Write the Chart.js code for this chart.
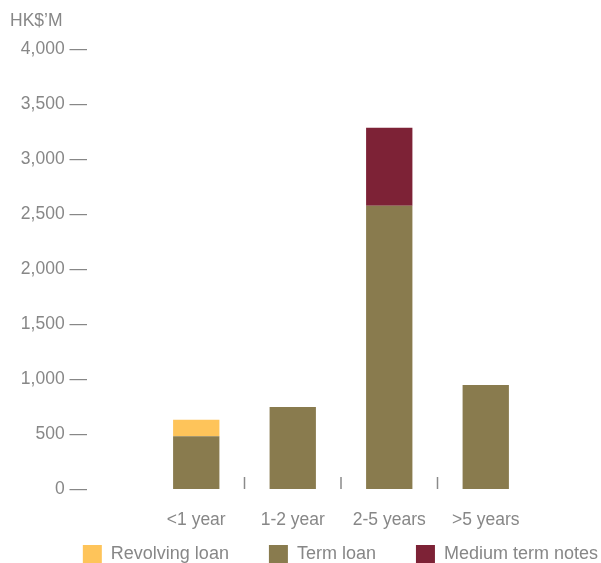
<!DOCTYPE html>
<html>
<head>
<meta charset="utf-8">
<script src="https://cdn.jsdelivr.net/npm/chart.js@4"></script>
<style>
  html, body { margin: 0; padding: 0; background: #fff; }
  #wrap { width: 601px; height: 563px; position: relative; }
</style>
</head>
<body>
<div id="wrap"><canvas id="maturityChart"></canvas></div>
<script>
const categories = ['<1 year', '1-2 year', '2-5 years', '>5 years'];
const revolvingLoan = [150, 0, 0, 0];
const termLoan = [480, 745, 2575, 945];
const mediumTermNotes = [0, 0, 710, 0];
const yTickValues = [0, 500, 1000, 1500, 2000, 2500, 3000, 3500, 4000];
const unitLabel = 'HK$\u2019M';

const textColor = '#878787';
const fontFamily = '"Liberation Sans", Arial, sans-serif';

// little marks on the baseline between categories + the unit label
const extras = {
  id: 'extras',
  afterDatasetsDraw(chart) {
    const c = chart.ctx;
    const xs = chart.scales.x;
    const bottom = chart.chartArea.bottom;
    c.save();
    c.strokeStyle = '#8a8a8a';
    c.lineWidth = 1.5;
    for (let i = 0; i < categories.length - 1; i++) {
      const x = (xs.getPixelForValue(i) + xs.getPixelForValue(i + 1)) / 2;
      c.beginPath();
      c.moveTo(x, bottom - 12);
      c.lineTo(x, bottom);
      c.stroke();
    }
    c.fillStyle = textColor;
    c.font = '17.5px ' + fontFamily;
    c.textAlign = 'left';
    c.textBaseline = 'middle';
    c.fillText(unitLabel, 10, 21);
    c.restore();
  }
};

const legendOrder = ['Revolving loan', 'Term loan', 'Medium term notes'];
const legendGap = '      ';

// invisible axis used only to hold empty space
const spacer = (position, width, weight) => ({
  position: position,
  weight: weight,
  grid: { display: false, drawTicks: false },
  border: { display: false },
  ticks: { display: false },
  afterFit(scale) { scale.width = width; }
});

new Chart(document.getElementById('maturityChart').getContext('2d'), {
  type: 'bar',
  data: {
    labels: categories,
    datasets: [
      { label: 'Term loan', data: termLoan, backgroundColor: '#897b4e' },
      { label: 'Revolving loan', data: revolvingLoan, backgroundColor: '#fec45a' },
      { label: 'Medium term notes', data: mediumTermNotes, backgroundColor: '#7d2236' }
    ]
  },
  options: {
    responsive: true,
    maintainAspectRatio: false,
    animation: false,
    layout: { padding: { left: 0, right: -7, top: 49, bottom: -11 } },
    datasets: { bar: { barPercentage: 0.48, categoryPercentage: 1 } },
    scales: {
      x: {
        stacked: true,
        afterFit(scale) { scale.height = 46; },
        grid: { display: false, drawTicks: false },
        border: { display: false },
        ticks: { color: textColor, font: { family: fontFamily, size: 17.5 }, padding: 20.5 }
      },
      y: {
        stacked: true,
        min: 0,
        max: 4000,
        weight: 1,
        afterFit(scale) { scale.width = 87; },
        afterBuildTicks(scale) { scale.ticks = yTickValues.map(v => ({ value: v })); },
        grid: { display: false, drawTicks: false },
        border: { display: false },
        ticks: {
          color: textColor,
          font: { family: fontFamily, size: 17.5 },
          padding: 0,
          callback: v => v.toLocaleString('en-US') + ' \u2014'
        }
      },
      yGap: spacer('left', 61, 0),
      yRight: spacer('right', 74, 0)
    },
    plugins: {
      tooltip: { enabled: false },
      legend: {
        position: 'bottom',
        align: 'end',
        labels: {
          color: textColor,
          font: { family: fontFamily, size: 18 },
          boxWidth: 19,
          boxHeight: 19,
          padding: 10,
          sort: (a, b) => legendOrder.indexOf(a.text.trim()) - legendOrder.indexOf(b.text.trim()),
          generateLabels(chart) {
            const items = Chart.defaults.plugins.legend.labels.generateLabels(chart);
            items.forEach(it => {
              if (it.text !== 'Medium term notes') it.text = it.text + legendGap;
            });
            return items;
          }
        }
      }
    }
  },
  plugins: [extras]
});
</script>
</body>
</html>
